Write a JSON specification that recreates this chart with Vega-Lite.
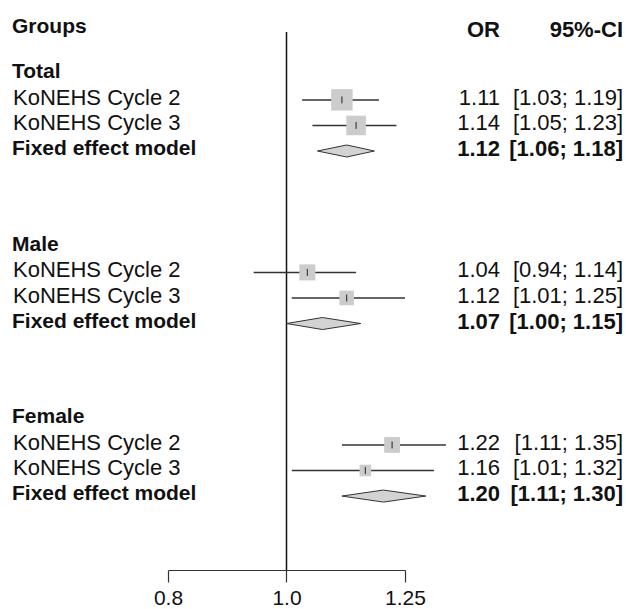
{
  "$schema": "https://vega.github.io/schema/vega-lite/v6.json",
  "padding": 0,
  "spacing": 0,
  "bounds": "flush",
  "config": {"view": {"stroke": null}, "font": "Liberation Sans", "text": {"font": "Liberation Sans", "color": "#111111"}},
  "datasets": {
    "rows": [
      {"group": "Total", "label": "Total", "type": "title", "row": 1},
      {"group": "Total", "label": "KoNEHS Cycle 2", "type": "study", "row": 2, "est": 1.11, "lo": 1.03, "hi": 1.19, "weight": 48.0, "or_txt": "1.11", "ci_txt": "[1.03; 1.19]"},
      {"group": "Total", "label": "KoNEHS Cycle 3", "type": "study", "row": 3, "est": 1.14, "lo": 1.05, "hi": 1.23, "weight": 40.0, "or_txt": "1.14", "ci_txt": "[1.05; 1.23]"},
      {"group": "Total", "label": "Fixed effect model", "type": "pooled", "row": 4, "est": 1.12, "lo": 1.06, "hi": 1.18, "or_txt": "1.12", "ci_txt": "[1.06; 1.18]"},
      {"group": "Male", "label": "Male", "type": "title", "row": 7.75},
      {"group": "Male", "label": "KoNEHS Cycle 2", "type": "study", "row": 8.75, "est": 1.04, "lo": 0.94, "hi": 1.14, "weight": 26.9, "or_txt": "1.04", "ci_txt": "[0.94; 1.14]"},
      {"group": "Male", "label": "KoNEHS Cycle 3", "type": "study", "row": 9.75, "est": 1.12, "lo": 1.01, "hi": 1.25, "weight": 22.0, "or_txt": "1.12", "ci_txt": "[1.01; 1.25]"},
      {"group": "Male", "label": "Fixed effect model", "type": "pooled", "row": 10.75, "est": 1.07, "lo": 1.00, "hi": 1.15, "or_txt": "1.07", "ci_txt": "[1.00; 1.15]"},
      {"group": "Female", "label": "Female", "type": "title", "row": 14.5},
      {"group": "Female", "label": "KoNEHS Cycle 2", "type": "study", "row": 15.5, "est": 1.22, "lo": 1.11, "hi": 1.35, "weight": 26.1, "or_txt": "1.22", "ci_txt": "[1.11; 1.35]"},
      {"group": "Female", "label": "KoNEHS Cycle 3", "type": "study", "row": 16.5, "est": 1.16, "lo": 1.01, "hi": 1.32, "weight": 14.0, "or_txt": "1.16", "ci_txt": "[1.01; 1.32]"},
      {"group": "Female", "label": "Fixed effect model", "type": "pooled", "row": 17.5, "est": 1.20, "lo": 1.11, "hi": 1.30, "or_txt": "1.20", "ci_txt": "[1.11; 1.30]"}
    ],
    "heads": [
      {"text": "Groups", "row": -0.79, "col": "label"},
      {"text": "OR", "row": -0.64, "col": "OR"},
      {"text": "95%-CI", "row": -0.64, "col": "CI"}
    ]
  },
  "hconcat": [
    {
      "width": 168,
      "height": 570,
      "layer": [
        {
          "data": {"name": "heads"},
          "transform": [{"filter": "datum.col == 'label'"}],
          "mark": {"type": "text", "align": "left", "baseline": "middle", "fontSize": 21, "fontWeight": "bold", "dy": -2},
          "encoding": {
            "x": {"datum": "label", "type": "nominal", "scale": {"type": "point", "domain": ["label"], "range": [12, 12]}, "axis": null},
            "y": {"field": "row", "type": "quantitative", "scale": {"domain": [-1.908, 20.393], "reverse": true, "nice": false, "zero": false}, "axis": null},
            "text": {"field": "text"}
          }
        },
        {
          "data": {"name": "rows"},
          "transform": [{"filter": "datum.type != 'study'"}],
          "mark": {"type": "text", "align": "left", "baseline": "middle", "fontSize": 21, "fontWeight": "bold", "dy": -2},
          "encoding": {
            "x": {"datum": "label", "type": "nominal", "scale": {"type": "point", "domain": ["label"], "range": [12, 12]}, "axis": null},
            "y": {"field": "row", "type": "quantitative", "scale": {"domain": [-1.908, 20.393], "reverse": true, "nice": false, "zero": false}, "axis": null},
            "text": {"field": "label"}
          }
        },
        {
          "data": {"name": "rows"},
          "transform": [{"filter": "datum.type == 'study'"}],
          "mark": {"type": "text", "align": "left", "baseline": "middle", "fontSize": 22, "dy": -2, "dx": 1},
          "encoding": {
            "x": {"datum": "label", "type": "nominal", "scale": {"type": "point", "domain": ["label"], "range": [12, 12]}, "axis": null},
            "y": {"field": "row", "type": "quantitative", "scale": {"domain": [-1.908, 20.393], "reverse": true, "nice": false, "zero": false}, "axis": null},
            "text": {"field": "label"}
          }
        }
      ]
    },
    {
      "width": 237,
      "height": 570,
      "layer": [
        {
          "data": {"values": [{}]},
          "mark": {"type": "rule", "color": "#111111", "strokeWidth": 1.5},
          "encoding": {
            "x": {"datum": 1, "type": "quantitative", "scale": {"type": "log", "domain": [0.8, 1.25], "nice": false}, "axis": {"values": [0.8, 1, 1.25], "title": null, "grid": false, "domainColor": "#333333", "domainWidth": 1.2, "tickColor": "#333333", "tickWidth": 1.2, "tickSize": 12, "labelFontSize": 21, "labelFont": "Liberation Sans", "labelColor": "#111111", "labelPadding": 5, "labelFlush": false, "labelOverlap": false, "labelExpr": "datum.value == 1 ? '1.0' : format(datum.value, '.2~f')"}},
            "y": {"datum": -0.656, "type": "quantitative", "scale": {"domain": [-1.908, 20.393], "reverse": true, "nice": false, "zero": false}, "axis": null},
            "y2": {"datum": 20.393}
          }
        },
        {
          "data": {"name": "rows"},
          "transform": [{"filter": "datum.type == 'study'"}],
          "mark": {"type": "rule", "color": "#333333", "strokeWidth": 1.5},
          "encoding": {
            "x": {"field": "lo", "type": "quantitative", "scale": {"type": "log", "domain": [0.8, 1.25], "nice": false}, "axis": {"values": [0.8, 1, 1.25], "title": null, "grid": false, "domainColor": "#333333", "domainWidth": 1.2, "tickColor": "#333333", "tickWidth": 1.2, "tickSize": 12, "labelFontSize": 21, "labelFont": "Liberation Sans", "labelColor": "#111111", "labelPadding": 5, "labelFlush": false, "labelOverlap": false, "labelExpr": "datum.value == 1 ? '1.0' : format(datum.value, '.2~f')"}},
            "x2": {"field": "hi"},
            "y": {"field": "row", "type": "quantitative", "scale": {"domain": [-1.908, 20.393], "reverse": true, "nice": false, "zero": false}, "axis": null}
          }
        },
        {
          "data": {"name": "rows"},
          "transform": [{"filter": "datum.type == 'study'"}],
          "mark": {"type": "point", "shape": "square", "filled": true, "color": "#CCCCCC", "opacity": 1, "strokeWidth": 0},
          "encoding": {
            "x": {"field": "est", "type": "quantitative", "scale": {"type": "log", "domain": [0.8, 1.25], "nice": false}, "axis": {"values": [0.8, 1, 1.25], "title": null, "grid": false, "domainColor": "#333333", "domainWidth": 1.2, "tickColor": "#333333", "tickWidth": 1.2, "tickSize": 12, "labelFontSize": 21, "labelFont": "Liberation Sans", "labelColor": "#111111", "labelPadding": 5, "labelFlush": false, "labelOverlap": false, "labelExpr": "datum.value == 1 ? '1.0' : format(datum.value, '.2~f')"}},
            "y": {"field": "row", "type": "quantitative", "scale": {"domain": [-1.908, 20.393], "reverse": true, "nice": false, "zero": false}, "axis": null},
            "size": {"field": "weight", "type": "quantitative", "scale": {"domain": [0, 48], "range": [0, 460], "zero": true}, "legend": null}
          }
        },
        {
          "data": {"name": "rows"},
          "transform": [{"filter": "datum.type == 'study'"}],
          "mark": {"type": "point", "shape": "M0,-1L0,1", "filled": false, "stroke": "#222222", "strokeWidth": 1, "size": 49, "opacity": 1},
          "encoding": {
            "x": {"field": "est", "type": "quantitative", "scale": {"type": "log", "domain": [0.8, 1.25], "nice": false}, "axis": {"values": [0.8, 1, 1.25], "title": null, "grid": false, "domainColor": "#333333", "domainWidth": 1.2, "tickColor": "#333333", "tickWidth": 1.2, "tickSize": 12, "labelFontSize": 21, "labelFont": "Liberation Sans", "labelColor": "#111111", "labelPadding": 5, "labelFlush": false, "labelOverlap": false, "labelExpr": "datum.value == 1 ? '1.0' : format(datum.value, '.2~f')"}},
            "y": {"field": "row", "type": "quantitative", "scale": {"domain": [-1.908, 20.393], "reverse": true, "nice": false, "zero": false}, "axis": null}
          }
        },
        {
          "data": {"name": "rows"},
          "transform": [
            {"filter": "datum.type == 'pooled'"},
            {"fold": ["lo", "est", "hi"], "as": ["pt", "xv"]},
            {"calculate": "datum.pt == 'est' ? 0.235 : 0", "as": "half"},
            {"calculate": "datum.row - datum.half", "as": "ytop"},
            {"calculate": "datum.row + datum.half", "as": "ybot"}
          ],
          "mark": {"type": "area", "fill": "#D3D3D3", "fillOpacity": 1, "stroke": "#333333", "strokeWidth": 1},
          "encoding": {
            "x": {"field": "xv", "type": "quantitative", "scale": {"type": "log", "domain": [0.8, 1.25], "nice": false}, "axis": {"values": [0.8, 1, 1.25], "title": null, "grid": false, "domainColor": "#333333", "domainWidth": 1.2, "tickColor": "#333333", "tickWidth": 1.2, "tickSize": 12, "labelFontSize": 21, "labelFont": "Liberation Sans", "labelColor": "#111111", "labelPadding": 5, "labelFlush": false, "labelOverlap": false, "labelExpr": "datum.value == 1 ? '1.0' : format(datum.value, '.2~f')"}},
            "y": {"field": "ytop", "type": "quantitative", "scale": {"domain": [-1.908, 20.393], "reverse": true, "nice": false, "zero": false}, "axis": null},
            "y2": {"field": "ybot"},
            "detail": {"field": "group", "type": "nominal"}
          }
        }
      ]
    },
    {
      "width": 221,
      "height": 570,
      "layer": [
        {
          "data": {"name": "heads"},
          "transform": [{"filter": "datum.col != 'label'"}],
          "mark": {"type": "text", "align": "right", "baseline": "middle", "fontSize": 22, "fontWeight": "bold", "dy": -2},
          "encoding": {
            "x": {"field": "col", "type": "nominal", "scale": {"type": "point", "domain": ["OR", "CI"], "range": [95, 218], "padding": 0}, "axis": null},
            "y": {"field": "row", "type": "quantitative", "scale": {"domain": [-1.908, 20.393], "reverse": true, "nice": false, "zero": false}, "axis": null},
            "text": {"field": "text"}
          }
        },
        {
          "data": {"name": "rows"},
          "transform": [{"filter": "datum.type == 'study'"}],
          "mark": {"type": "text", "align": "right", "baseline": "middle", "fontSize": 22, "dy": -2},
          "encoding": {
            "x": {"datum": "OR", "type": "nominal", "scale": {"type": "point", "domain": ["OR", "CI"], "range": [95, 218], "padding": 0}, "axis": null},
            "y": {"field": "row", "type": "quantitative", "scale": {"domain": [-1.908, 20.393], "reverse": true, "nice": false, "zero": false}, "axis": null},
            "text": {"field": "or_txt"}
          }
        },
        {
          "data": {"name": "rows"},
          "transform": [{"filter": "datum.type == 'study'"}],
          "mark": {"type": "text", "align": "right", "baseline": "middle", "fontSize": 22, "dy": -2},
          "encoding": {
            "x": {"datum": "CI", "type": "nominal", "scale": {"type": "point", "domain": ["OR", "CI"], "range": [95, 218], "padding": 0}, "axis": null},
            "y": {"field": "row", "type": "quantitative", "scale": {"domain": [-1.908, 20.393], "reverse": true, "nice": false, "zero": false}, "axis": null},
            "text": {"field": "ci_txt"}
          }
        },
        {
          "data": {"name": "rows"},
          "transform": [{"filter": "datum.type == 'pooled'"}],
          "mark": {"type": "text", "align": "right", "baseline": "middle", "fontSize": 22, "fontWeight": "bold", "dy": -2},
          "encoding": {
            "x": {"datum": "OR", "type": "nominal", "scale": {"type": "point", "domain": ["OR", "CI"], "range": [95, 218], "padding": 0}, "axis": null},
            "y": {"field": "row", "type": "quantitative", "scale": {"domain": [-1.908, 20.393], "reverse": true, "nice": false, "zero": false}, "axis": null},
            "text": {"field": "or_txt"}
          }
        },
        {
          "data": {"name": "rows"},
          "transform": [{"filter": "datum.type == 'pooled'"}],
          "mark": {"type": "text", "align": "right", "baseline": "middle", "fontSize": 22, "fontWeight": "bold", "dy": -2},
          "encoding": {
            "x": {"datum": "CI", "type": "nominal", "scale": {"type": "point", "domain": ["OR", "CI"], "range": [95, 218], "padding": 0}, "axis": null},
            "y": {"field": "row", "type": "quantitative", "scale": {"domain": [-1.908, 20.393], "reverse": true, "nice": false, "zero": false}, "axis": null},
            "text": {"field": "ci_txt"}
          }
        }
      ]
    }
  ]
}
